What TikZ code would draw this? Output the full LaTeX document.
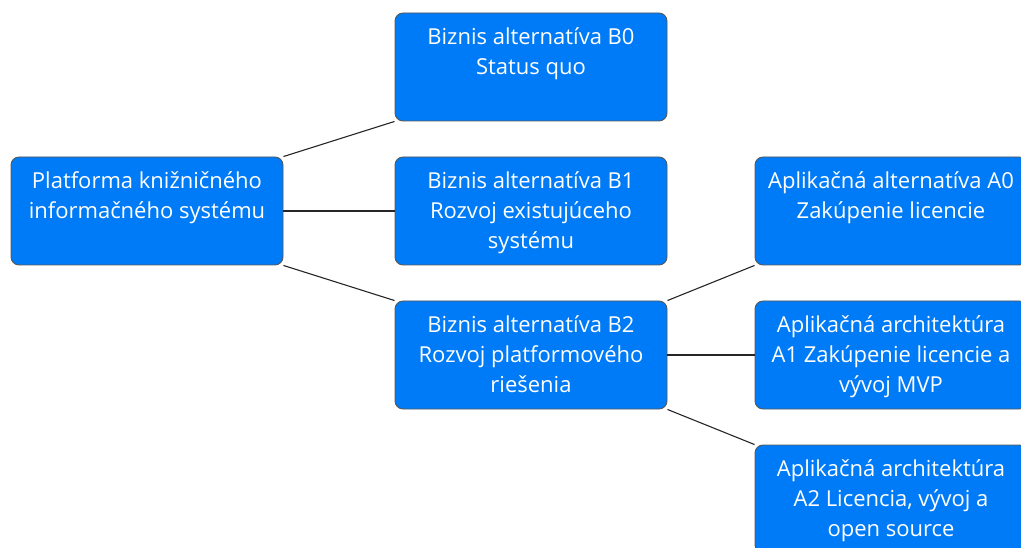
\documentclass[tikz,border=0pt]{standalone}
\usepackage{fontspec}
\setmainfont{Open Sans}
\tikzset{
  x=1pt, y=1pt,
  box/.style={draw=black!65, line width=0.9pt, fill=boxblue, rounded corners=8pt,
    minimum width=272pt, minimum height=108pt, inner sep=0pt, text=white, anchor=center},
  link/.style={draw=black!85, line width=1.1pt}
}
\definecolor{boxblue}{RGB}{0,123,247}
\newcommand{\boxtext}[1]{\parbox[c][108pt][t]{272pt}{\centering\fontsize{22pt}{30pt}\selectfont\vspace*{15pt}#1\par}}
\begin{document}
\begin{tikzpicture}
\useasboundingbox (0,0) rectangle (1021,-548);
\clip (0,0) rectangle (1021,-548);
\node[box] (root) at (147,-211) {\boxtext{Platforma knižničného\\informačného systému}};
\node[box] (b0) at (531,-67) {\boxtext{Biznis alternatíva B0\\Status quo}};
\node[box] (b1) at (531,-211) {\boxtext{Biznis alternatíva B1\\Rozvoj existujúceho\\systému}};
\node[box] (b2) at (531,-355) {\boxtext{Biznis alternatíva B2\\Rozvoj platformového\\riešenia}};
\node[box] (a0) at (891,-211) {\boxtext{Aplikačná alternatíva A0\\Zakúpenie licencie}};
\node[box] (a1) at (891,-355) {\boxtext{Aplikačná architektúra\\A1 Zakúpenie licencie a\\vývoj MVP}};
\node[box] (a2) at (891,-499) {\boxtext{Aplikačná architektúra\\A2 Licencia, vývoj a\\open source}};
\draw[link] (root.north east) -- (b0.south west);
\draw[link] (root.east) -- (b1.west);
\draw[link] (root.south east) -- (b2.north west);
\draw[link] (b2.north east) -- (a0.south west);
\draw[link] (b2.east) -- (a1.west);
\draw[link] (b2.south east) -- (a2.north west);
\end{tikzpicture}
\end{document}
